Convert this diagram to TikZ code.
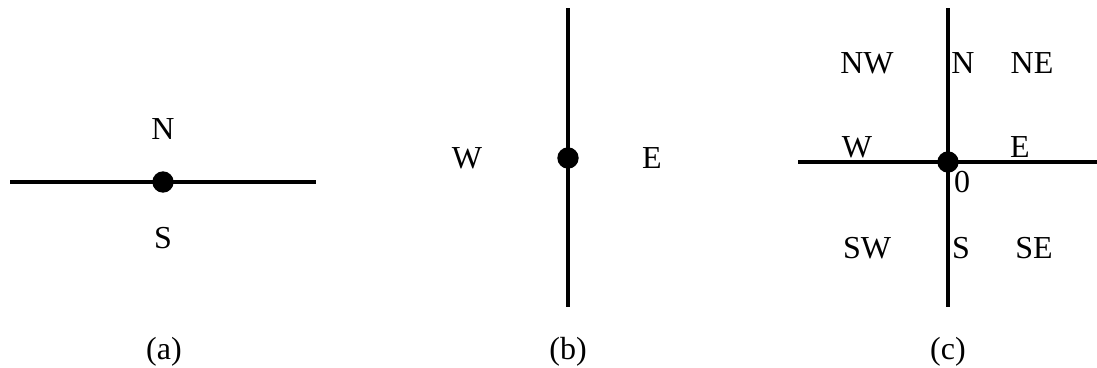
\documentclass[tikz,border=0pt]{standalone}
\usepackage{fontspec}
\setmainfont{Liberation Serif}
\usetikzlibrary{positioning}

\begin{document}
\begin{tikzpicture}[
    x=0.75pt, y=-0.75pt,
    font=\fontsize{24}{28}\selectfont,
    axis/.style={line width=3pt},
    dot/.style={circle, fill=black, inner sep=0pt, minimum size=16pt},
    lbl/.style={anchor=base, inner sep=0pt},
  ]
  \useasboundingbox (0,0) rectangle (1097,368);

  % ---- (a) one line
  \coordinate (aL) at (10,182);
  \coordinate (aR) at (316,182);
  \draw[axis] (aL) -- (aR);
  \node[dot] (aO) at (163,182) {};
  \node[lbl] (aN) at (163,139) {N};
  \node[lbl] (aS) at (163,248) {S};
  \node[lbl] (capA) at (164,359) {(a)};

  % ---- (b) vertical line
  \coordinate (bT) at (568,8);
  \coordinate (bB) at (568,307);
  \draw[axis] (bT) -- (bB);
  \node[dot] (bO) at (568,158) {};
  \node[lbl] (bW) at (467,168) {W};
  \node[lbl] (bE) at (652,168) {E};
  \node[lbl] (capB) at (568,359) {(b)};

  % ---- (c) both lines
  \coordinate (cT) at (948,8);
  \coordinate (cB) at (948,307);
  \coordinate (cL) at (798,162);
  \coordinate (cR) at (1097,162);
  \draw[axis] (cT) -- (cB);
  \draw[axis] (cL) -- (cR);
  \node[dot] (cO) at (948,162) {};
  \node[lbl] (cNW) at (867,73) {NW};
  \node[lbl] (cN) at (963,73) {N};
  \node[lbl] (cNE) at (1032,73) {NE};
  \node[lbl] (cW) at (857,157) {W};
  \node[lbl] (cE) at (1020,157) {E};
  \node[lbl] (c0) at (962,192) {0};
  \node[lbl] (cSW) at (867,258) {SW};
  \node[lbl] (cS) at (961,258) {S};
  \node[lbl] (cSE) at (1034,258) {SE};
  \node[lbl] (capC) at (948,359) {(c)};
\end{tikzpicture}
\end{document}
